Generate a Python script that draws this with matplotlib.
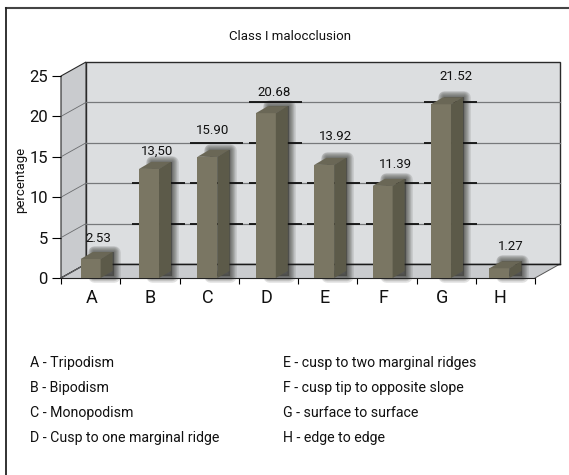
import matplotlib
matplotlib.use("Agg")
import matplotlib.pyplot as plt
from matplotlib.lines import Line2D
from matplotlib.patches import Polygon

plt.rcParams['font.family'] = ['Roboto', 'Liberation Sans', 'DejaVu Sans']

categories = ["A", "B", "C", "D", "E", "F", "G", "H"]
heights = [2.35, 13.5, 15.0, 20.4, 14.0, 11.4, 21.5, 1.2]
values = [2.53, 13.50, 15.90, 20.68, 13.92, 11.39, 21.52, 1.27]
value_labels = ["2.53", "13,50", "15.90", "20.68", "13.92", "11.39", "21.52", "1.27"]
yticks = [0, 5, 10, 15, 20, 25]
legend_left = ["A - Tripodism", "B - Bipodism", "C - Monopodism", "D - Cusp to one marginal ridge"]
legend_right = ["E - cusp to two marginal ridges", "F - cusp tip to opposite slope",
                "G - surface to surface", "H - edge to edge"]

W, H = 569, 475
fig = plt.figure(figsize=(W / 100, H / 100), dpi=100)
ax = fig.add_axes([61 / W, 1 - 278 / H, 474 / W, 202 / H])
ax.set_xlim(-0.5, 7.5)
ax.set_ylim(0, 25)
ax.patch.set_visible(False)
for s in ax.spines.values():
    s.set_visible(False)

# depth of the fake 3d box, in data units
px = 1 / 59.25
dx = 25 * px
dy = 14 / 8.08
bw = 20 * px
left, right = -0.5, 7.5
# bars sit a little tighter than the ticks in the original
bar_x = [i * 58.4 * px for i in range(len(categories))]

ax.add_patch(Polygon([(left + dx, dy), (right + dx, dy), (right + dx, 25 + dy), (left + dx, 25 + dy)],
                     fc="#dcdee0", ec="#2a2a2a", lw=1.0, clip_on=False, zorder=1))
ax.add_patch(Polygon([(left, 0), (left + dx, dy), (left + dx, 25 + dy), (left, 25)],
                     fc="#c9cbce", ec="#2a2a2a", lw=0.8, clip_on=False, zorder=1))
ax.add_patch(Polygon([(left, 0), (right, 0), (right + dx, dy), (left + dx, dy)],
                     fc="#c9cbce", ec="none", clip_on=False, zorder=1))
ax.plot([left, left + dx], [0, dy], color="#222222", lw=0.9, clip_on=False, zorder=2)
ax.plot([right, right + dx], [0, dy], color="#555555", lw=0.7, clip_on=False, zorder=2)

# gridlines on both walls
for t in yticks[:-1]:
    ax.plot([left + dx, right + dx], [t + dy, t + dy], color="#77797b", lw=0.9, clip_on=False, zorder=2)
    ax.plot([left, left + dx], [t, t + dy], color="#6a6c6e", lw=0.6, clip_on=False, zorder=2)

# soft shadow behind each bar, then dark bits of the gridlines in it
for x, h, v in zip(bar_x, heights, values):
    x0 = x - bw / 2
    x1 = x0 + bw
    sx, sy = dx * 0.52, dy * 0.5
    shadow = [(x0 + sx, 0.3), (x1 + sx, 0.3), (x1 + sx, h + sy), (x0 + sx, h + sy)]
    for lw in [9, 7.5, 6, 4.5, 3, 1.5]:
        ax.add_patch(Polygon(shadow, fc="#3a3a36", ec="#3a3a36", lw=lw, alpha=0.15,
                             joinstyle="round", clip_on=False, zorder=3))
    for t in yticks:
        if 0 < t <= v and v > 3:
            ax.plot([x0 - 7 * px, x1 + 26 * px], [t + dy, t + dy], color="#111111", lw=1.3,
                    solid_capstyle="butt", clip_on=False, zorder=4)

ax.plot([left + dx, right + dx], [dy, dy], color="#1a1a1a", lw=1.0, clip_on=False, zorder=4)

# bars
ax.bar(bar_x, heights, width=bw, color="#7a7663", zorder=6, clip_on=False)
for x, h in zip(bar_x, heights):
    x0 = x - bw / 2
    x1 = x0 + bw
    sx, sy = dx * 0.48, dy * 0.5
    ax.add_patch(Polygon([(x1, 0), (x1 + sx, sy), (x1 + sx, h + sy), (x1, h)],
                         fc="#5c5a49", ec="none", clip_on=False, zorder=6))
    ax.add_patch(Polygon([(x0, h), (x1, h), (x1 + sx, h + sy), (x0 + sx, h + sy)],
                         fc="#6a6756", ec="none", clip_on=False, zorder=6))

# value labels
label_pos = [(98, 238), (157, 151), (213, 131), (274, 93), (335, 136), (395, 164), (456, 77), (511, 246)]
for (lx, ly), txt in zip(label_pos, value_labels):
    fig.text(lx / W, 1 - ly / H, txt, fontsize=9.5, ha="center", va="center", color="#111111")

ax.set_yticks(yticks)
ax.set_yticklabels([str(t) for t in yticks], fontsize=12, color="#111111")
ax.tick_params(axis="y", length=6.5, width=0.8, pad=3)
ax.set_xticks([i - 0.5 for i in range(9)])
ax.set_xticklabels([])
ax.tick_params(axis="x", length=4.5, width=0.8)
ax.spines["bottom"].set_visible(True)
ax.spines["bottom"].set_color("#222222")
ax.spines["bottom"].set_zorder(5)
for x, c in zip(bar_x, categories):
    ax.annotate(c, (x + 0.01, 0), xytext=(0, -21), textcoords="offset points",
                ha="center", va="bottom", fontsize=13, color="#111111", annotation_clip=False)

fig.text(21 / W, 1 - 180 / H, "percentage", rotation=90, fontsize=9.5, ha="center", va="center", color="#111111")
fig.text(290 / W, 1 - 36 / H, "Class I malocclusion", fontsize=9.5, ha="center", va="center", color="#111111")

for i, txt in enumerate(legend_left):
    fig.text(30 / W, 1 - (363 + i * 25) / H, txt, fontsize=10.2, va="center", color="#111111")
for i, txt in enumerate(legend_right):
    fig.text(283 / W, 1 - (363 + i * 25) / H, txt, fontsize=10.2, va="center", color="#111111")

# page frame is only top and left, both run off the edge
fig.add_artist(Line2D([6 / W, 1], [1 - 8 / H, 1 - 8 / H], color="#444444", lw=1.5))
fig.add_artist(Line2D([6 / W, 6 / W], [0, 1 - 8 / H], color="#222222", lw=1.3))

fig.savefig("out.png", dpi=100)
